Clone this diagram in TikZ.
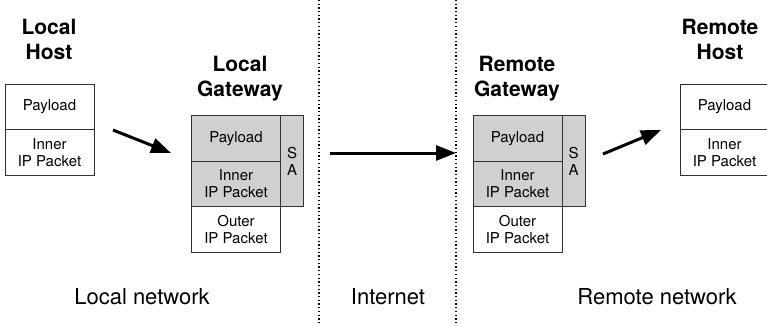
\documentclass[tikz,border=0pt]{standalone}
\usepackage{fontspec}
\setmainfont{TeX Gyre Heros}
\usetikzlibrary{positioning,arrows.meta}
\definecolor{cCell}{RGB}{208,208,208}
\definecolor{cLine}{RGB}{50,50,50}

\begin{document}
\begin{tikzpicture}[x=1pt,y=-1pt,font=\fontsize{15}{17}\selectfont,node distance=0pt]
\tikzset{cell/.style={draw=cLine,line width=0.9pt,outer sep=0pt,inner sep=0pt,minimum width=89pt,minimum height=45.5pt,align=center},
  sec/.style={cell,fill=cCell},
  sabox/.style={draw=cLine,line width=0.9pt,outer sep=0pt,inner sep=0pt,fill=cCell,minimum width=23pt,minimum height=91pt,align=center},
  title/.style={align=center,font=\fontsize{21}{25}\selectfont\bfseries},
  net/.style={font=\fontsize{22}{26}\selectfont},
  flow/.style={-{Triangle[length=20pt,width=15pt]},line width=3pt},
  zone/.style={line width=1.3pt,dash pattern=on 1.3pt off 2.4pt,black}}
\useasboundingbox (0,0) rectangle (767,326);

% local host
\node[cell] (lhpay) at (49.5,107) {Payload};
\node[cell,below=of lhpay] (lhin) {Inner\\IP Packet};
\node[title] (lhname) at (49,39) {Local\\Host};

% local gateway
\node[sec] (lgpay) at (236,138.5) {Payload};
\node[sec,below=of lgpay] (lgin) {Inner\\IP Packet};
\node[cell,below=of lgin] (lgout) {Outer\\IP Packet};
\node[sabox,anchor=north west] (lgsa) at (lgpay.north east) {S\\A};
\node[title] (lgname) at (240,79) {Local\\Gateway};

% remote gateway
\node[sec] (rgpay) at (517.5,138.5) {Payload};
\node[sec,below=of rgpay] (rgin) {Inner\\IP Packet};
\node[cell,below=of rgin] (rgout) {Outer\\IP Packet};
\node[sabox,anchor=north west] (rgsa) at (rgpay.north east) {S\\A};
\node[title] (rgname) at (517,79) {Remote\\Gateway};

% remote host
\node[cell] (rhpay) at (724.5,107) {Payload};
\node[cell,below=of rhpay] (rhin) {Inner\\IP Packet};
\node[title] (rhname) at (720,39) {Remote\\Host};

% zones
\coordinate (z1top) at (319,0);
\coordinate (z1bot) at (319,326);
\coordinate (z2top) at (456,0);
\coordinate (z2bot) at (456,326);
\draw[zone] (z1top) -- (z1bot);
\draw[zone] (z2top) -- (z2bot);
\node[net] (lnet) at (142,297) {Local network};
\node[net] (inet) at (388,297) {Internet};
\node[net] (rnet) at (657,297) {Remote network};

% packet flow
\coordinate (f1s) at (113,130);
\coordinate (f1e) at (171,153);
\coordinate (f2s) at (330,153);
\coordinate (f2e) at (456,153);
\coordinate (f3s) at (603,154);
\coordinate (f3e) at (661,130);
\draw[flow] (f1s) -- (f1e);
\draw[flow] (f2s) -- (f2e);
\draw[flow] (f3s) -- (f3e);
\end{tikzpicture}
\end{document}
